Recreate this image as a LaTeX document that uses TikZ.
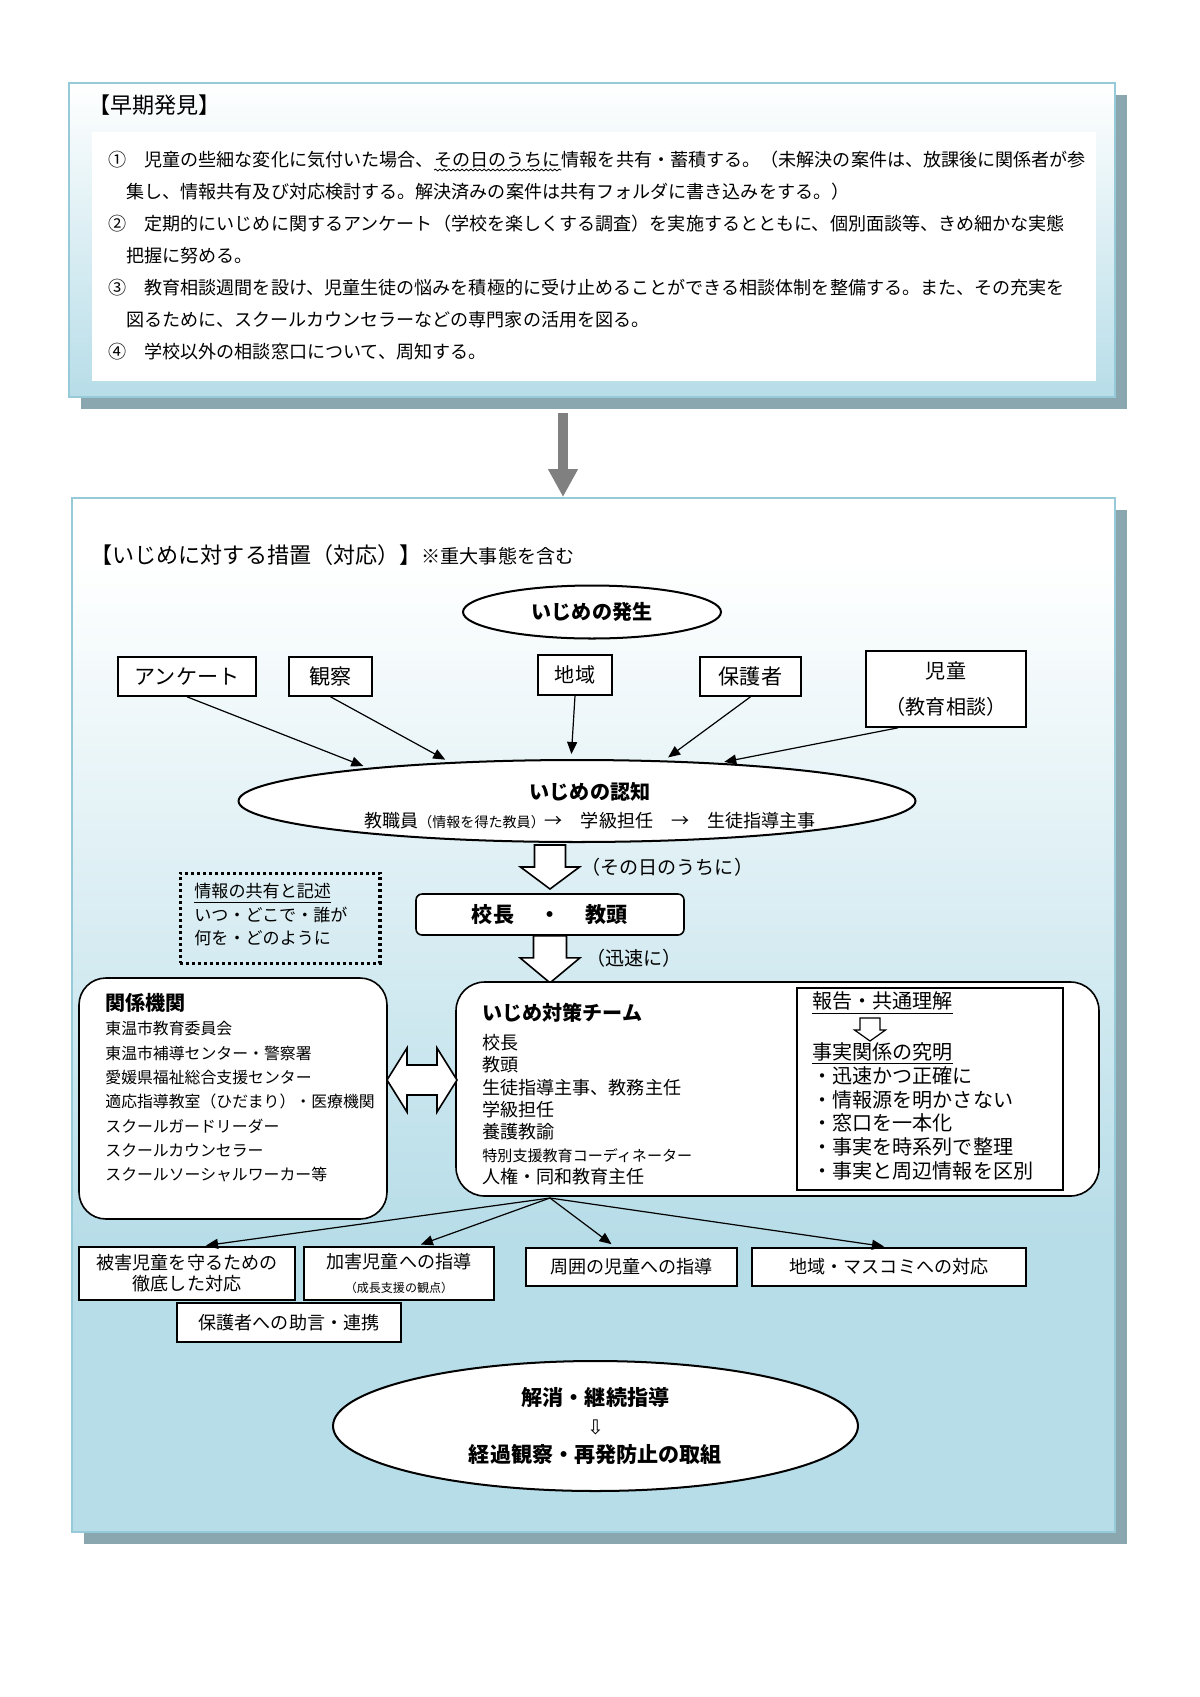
\documentclass[tikz,border=0pt]{standalone}
\usepackage{fontspec}
\setmainfont{Noto Sans CJK JP}
\newfontfamily\symfont{DejaVu Sans}
\usetikzlibrary{arrows.meta, shapes.geometric, decorations.pathmorphing}
\definecolor{skyFill}{RGB}{183, 221, 232}
\definecolor{skyLine}{RGB}{150, 202, 216}
\definecolor{shadowGray}{RGB}{138, 167, 175}
\definecolor{arrowGray}{RGB}{128, 128, 128}

\begin{document}
\begin{tikzpicture}[x=0.0175cm, y=-0.0175cm,
    frameBox/.style={rectangle, draw=skyLine, line width=1pt, inner sep=0pt},
    srcBox/.style={rectangle, draw=black, fill=white, line width=0.8pt, inner sep=0pt, align=center, font=\fontsize{10.5}{13}\selectfont},
    outBox/.style={rectangle, draw=black, fill=white, line width=0.8pt, inner sep=0pt, align=center, font=\fontsize{9}{10.4}\selectfont},
    ovalNode/.style={ellipse, draw=black, fill=white, line width=1pt, inner sep=0pt, align=center},
    roundBox/.style={rectangle, draw=black, fill=white, line width=0.8pt, inner sep=0pt, rounded corners=3pt, align=center},
    dotBox/.style={rectangle, draw=black, line width=1.5pt, dash pattern=on 1.5pt off 1.5pt, inner sep=0pt},
    plainText/.style={inner sep=0pt, anchor=west},
    lineText/.style={inner sep=0pt, anchor=base west, font=\fontsize{9}{15.9}\selectfont},
    listText/.style={inner sep=0pt, anchor=north west, align=left},
    hollowArrow/.style={draw=black, fill=white, line width=0.8pt, line join=miter},
    srcArrow/.style={-{Triangle[length=6pt, width=5pt]}, line width=0.6pt, draw=black, shorten >=2.5pt},
    grayArrow/.style={-{Triangle[length=13.9pt, width=13.9pt]}, line width=4.5pt, draw=arrowGray}
  ]
    \useasboundingbox (0,0) rectangle (1200,1697);
    \fill[white] (0,0) rectangle (1200,1697);

    % Early detection frame
    \fill[shadowGray] (81,95) rectangle (1127,409);
    \shade[top color=white, bottom color=skyFill] (69,83) rectangle (1115,397);
    \node[frameBox, minimum width=18.305cm, minimum height=5.495cm] (early) at (592,240) {};
    \fill[white] (92,132) rectangle (1096,381);
    \node[plainText, font=\fontsize{11}{13}\selectfont] (earlyTitle) at (88,105) {【早期発見】};
    \node[lineText] (line1a) at (108,166) {①　児童の些細な変化に気付いた場合、};
    \node[lineText] (line1b) at (line1a.base east) {その日のうちに};
    \node[lineText] (line1c) at (line1b.base east) {情報を共有・蓄積する。（未解決の案件は、放課後に関係者が参};
    \draw[decorate, decoration={snake, amplitude=0.45pt, segment length=2.2pt}, line width=0.4pt]
      ([yshift=-2pt]line1b.base west) -- ([yshift=-2pt]line1b.base east);
    \node[listText, font=\fontsize{9}{15.9}\selectfont] (earlyList) at (108,183) {\hspace*{1em}集し、情報共有及び対応検討する。解決済みの案件は共有フォルダに書き込みをする。）\\
      ②　定期的にいじめに関するアンケート（学校を楽しくする調査）を実施するとともに、個別面談等、きめ細かな実態\\
      \hspace*{1em}把握に努める。\\
      ③　教育相談週間を設け、児童生徒の悩みを積極的に受け止めることができる相談体制を整備する。また、その充実を\\
      \hspace*{1em}図るために、スクールカウンセラーなどの専門家の活用を図る。\\
      ④　学校以外の相談窓口について、周知する。};

    % Measures frame
    \fill[shadowGray] (84,510) rectangle (1127,1544);
    \fill[white] (72,498) rectangle (1115,560);
    \shade[top color=white, bottom color=skyFill] (72,560) rectangle (1115,1240);
    \fill[skyFill] (72,1240) rectangle (1115,1532);
    \node[frameBox, minimum width=18.2525cm, minimum height=18.095cm] (measures) at (593.5,1015) {};
    \coordinate (dropTop) at (563,413);
    \draw[grayArrow] (dropTop) -- (dropTop |- measures.north);
    \node[plainText, font=\fontsize{11}{13}\selectfont] (measTitle) at (90,555) {【いじめに対する措置（対応）】{\fontsize{9.5}{12}\selectfont ※重大事態を含む}};

    % Occurrence and sources
    \node[ovalNode, minimum width=4.515cm, minimum height=0.9275cm, font=\bfseries\fontsize{10}{12}\selectfont] (occur) at (592,612) {いじめの発生};
    \node[srcBox, minimum width=2.415cm, minimum height=0.6825cm] (anq) at (187,676.5) {アンケート};
    \node[srcBox, minimum width=1.4525cm, minimum height=0.6825cm] (obs) at (330.5,676.5) {観察};
    \node[srcBox, minimum width=1.295cm, minimum height=0.70cm, font=\fontsize{10}{12}\selectfont] (area) at (575,675) {地域};
    \node[srcBox, minimum width=1.7675cm, minimum height=0.6825cm] (guard) at (750.5,676.5) {保護者};
    \node[srcBox, minimum width=2.80cm, minimum height=1.33cm, font=\fontsize{10}{18.4}\selectfont] (child) at (946,689) {児童\\（教育相談）};

    % Recognition
    \node[ovalNode, minimum width=11.8475cm, minimum height=1.435cm, font=\fontsize{9}{14}\selectfont] (recog) at (577,801) {};
    \node[inner sep=0pt, align=center, font=\fontsize{9}{14}\selectfont] (recogText) at (590,806) {{\bfseries\fontsize{10}{14}\selectfont いじめの認知}\\教職員{\fontsize{7}{8}\selectfont（情報を得た教員）}→\hspace{1em}学級担任\hspace{1em}→\hspace{1em}生徒指導主事};
    \draw[srcArrow] (anq.south) -- (recog.171);
    \draw[srcArrow] (obs.south) -- (recog.163);
    \draw[srcArrow] (area.south) -- (recog.98);
    \draw[srcArrow] (guard.south) -- (recog.25);
    \draw[srcArrow] ([xshift=-0.84cm]child.south) -- (recog.15);

    % Principal and vice principal
    \node[roundBox, minimum width=4.69cm, minimum height=0.7175cm, font=\bfseries\fontsize{10.5}{12}\selectfont] (head) at (550,914.5) {校長\hspace{1.2em}・\hspace{1.2em}教頭};
    \coordinate (flow1) at (recog.south -| head.north);
    \draw[hollowArrow] (flow1) ++(-15.5,2) -- ++(0,22) -- ++(-14,0) -- ++(29.5,22) -- ++(29.5,-22) -- ++(-14,0) -- ++(0,-22) -- cycle;
    \node[plainText, font=\fontsize{9.5}{12}\selectfont] (flowNote1) at (581,867) {（その日のうちに）};
    \coordinate (flow2) at (head.south);
    \draw[hollowArrow] (flow2) ++(-16.5,0) -- ++(0,22) -- ++(-13.5,0) -- ++(30,25) -- ++(30,-25) -- ++(-13.5,0) -- ++(0,-22) -- cycle;
    \node[plainText, font=\fontsize{9.5}{12}\selectfont] (flowNote2) at (586,958) {（迅速に）};

    % Sharing note
    \node[dotBox, minimum width=3.5cm, minimum height=1.575cm] (info) at (280,918) {};
    \node[listText, font=\fontsize{8.5}{11.7}\selectfont] (infoText) at (194,883) {\underline{情報の共有と記述}\\いつ・どこで・誰が\\何を・どのように};

    % Related agencies
    \node[roundBox, rounded corners=0.47cm, minimum width=5.39cm, minimum height=4.2175cm] (related) at (233,1098.5) {};
    \node[plainText, font=\bfseries\fontsize{10}{12}\selectfont] (relTitle) at (105,1003) {関係機関};
    \node[listText, font=\fontsize{7.9}{12.1}\selectfont] (relList) at (105,1021) {東温市教育委員会\\東温市補導センター・警察署\\愛媛県福祉総合支援センター\\適応指導教室（ひだまり）・医療機関\\スクールガードリーダー\\スクールカウンセラー\\スクールソーシャルワーカー等};

    % Anti-bullying team
    \node[roundBox, rounded corners=0.5cm, minimum width=11.2525cm, minimum height=3.745cm] (team) at (777.5,1089) {};
    \node[plainText, font=\bfseries\fontsize{10}{12}\selectfont] (teamTitle) at (482,1013) {いじめ対策チーム};
    \node[listText, font=\fontsize{9}{11.1}\selectfont] (teamList) at (482,1034) {校長\\教頭\\生徒指導主事、教務主任\\学級担任\\養護教諭\\{\fontsize{7.5}{11.1}\selectfont 特別支援教育コーディネーター}\\人権・同和教育主任};
    \coordinate (linkL) at (387,1080);
    \draw[hollowArrow] (linkL) -- ++(20,-32) -- ++(0,17) -- ++(30,0) -- ++(0,-17) -- ++(20,32) -- ++(-20,32) -- ++(0,-17) -- ++(-30,0) -- ++(0,17) -- cycle;

    \node[rectangle, draw=black, fill=white, line width=0.6pt, minimum width=4.655cm, minimum height=3.535cm] (report) at (930,1089) {};
    \node[plainText, font=\fontsize{10}{12}\selectfont] (rptTop) at (812,1003) {\underline{報告・共通理解}};
    \coordinate (rptFlow) at (870,1018);
    \draw[hollowArrow, line width=0.6pt] (rptFlow) ++(-10,0) -- ++(0,12) -- ++(-5.5,0) -- ++(15.5,11) -- ++(15.5,-11) -- ++(-5.5,0) -- ++(0,-12) -- cycle;
    \node[listText, font=\fontsize{10}{11.9}\selectfont] (rptList) at (812,1042) {\underline{事実関係の究明}\\・迅速かつ正確に\\・情報源を明かさない\\・窓口を一本化\\・事実を時系列で整理\\・事実と周辺情報を区別};

    % Responses
    \node[outBox, minimum width=3.78cm, minimum height=0.9275cm] (victim) at (187,1273.5) {被害児童を守るための\\徹底した対応};
    \node[outBox, minimum width=3.325cm, minimum height=0.9275cm, font=\fontsize{9}{12.4}\selectfont] (offender) at (399,1273.5) {加害児童への指導\\{\fontsize{6}{8}\selectfont（成長支援の観点）}};
    \node[outBox, minimum width=3.6925cm, minimum height=0.665cm] (peers) at (631.5,1267) {周囲の児童への指導};
    \node[outBox, minimum width=4.795cm, minimum height=0.665cm] (media) at (889,1267) {地域・マスコミへの対応};
    \node[outBox, minimum width=3.92cm, minimum height=0.6825cm] (parent) at (289,1322.5) {保護者への助言・連携};
    \coordinate (fan) at (550,1198);
    \draw[srcArrow] (fan) -- ([xshift=0.245cm]victim.north);
    \draw[srcArrow] (fan) -- ([xshift=0.3cm]offender.north);
    \draw[srcArrow] (fan) -- ([xshift=-0.28cm]peers.north);
    \draw[srcArrow] (fan) -- (media.north);

    % Follow-up
    \node[ovalNode, minimum width=9.1875cm, minimum height=2.275cm, font=\bfseries\fontsize{10.5}{14.2}\selectfont] (final) at (595.5,1426) {解消・継続指導\\{\symfont\mdseries\fontsize{10}{14.2}\selectfont ⇩}\\経過観察・再発防止の取組};
  \end{tikzpicture}
\end{document}
